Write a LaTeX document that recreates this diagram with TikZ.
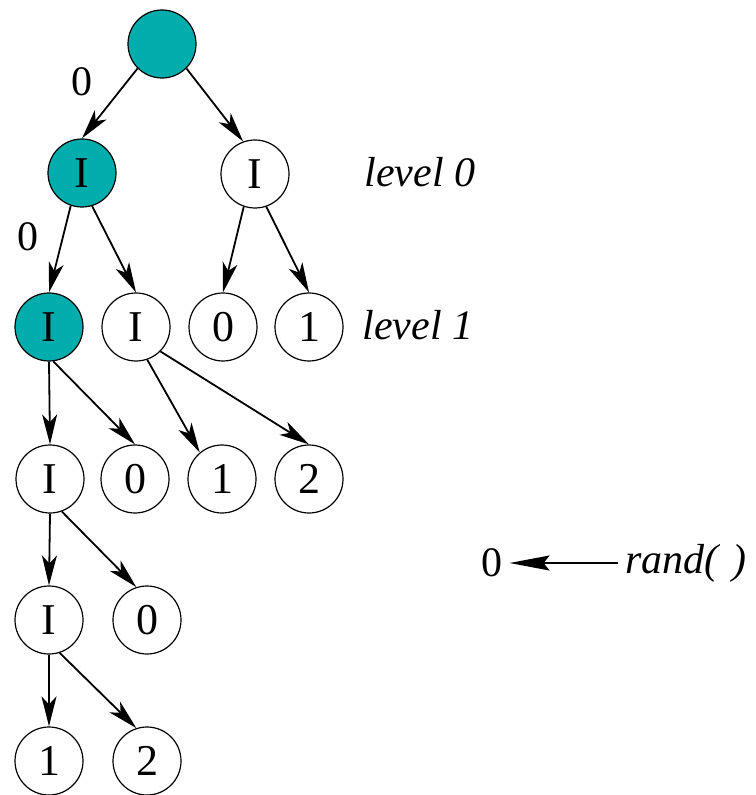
\documentclass[tikz,border=0pt]{standalone}
\usepackage{fontspec}
\setmainfont{Liberation Serif}
\usetikzlibrary{arrows.meta}

\definecolor{visited}{RGB}{0,173,173}

\begin{document}
\begin{tikzpicture}[x=0.5pt,y=-0.5pt,
    vtx/.style={circle,draw,line width=0.6pt,minimum size=34pt,inner sep=0pt,
        font=\fontsize{22}{26}\selectfont},
    hit/.style={vtx,fill=visited},
    edge/.style={line width=0.9pt,-{Stealth[length=15pt,width=7.5pt,inset=4pt]}},
    lbl/.style={font=\fontsize{21}{25}\selectfont}]
    \useasboundingbox (0,0) rectangle (755,795);

    % Root and level 0
    \node[hit] (root) at (162,44) {};
    \node[hit] (l0a) at (82,173) {I};
    \node[vtx] (l0b) at (255,174) {I};

    % Level 1
    \node[hit] (l1a) at (49,327) {I};
    \node[vtx] (l1b) at (136,327) {I};
    \node[vtx] (l1c) at (223,327) {0};
    \node[vtx] (l1d) at (309,327) {1};

    % Level 2
    \node[vtx] (l2a) at (50,479) {I};
    \node[vtx] (l2b) at (135,479) {0};
    \node[vtx] (l2c) at (222,479) {1};
    \node[vtx] (l2d) at (309,479) {2};

    % Deeper levels
    \node[vtx] (l3a) at (49,620) {I};
    \node[vtx] (l3b) at (147,620) {0};
    \node[vtx] (l4a) at (49,761) {1};
    \node[vtx] (l4b) at (147,761) {2};

    % Edges
    \foreach \a/\b in {root.south west/l0a.north, root.south east/l0b.110,
                       l0a.251/l1a.north, l0a.287/l1b.north,
                       l0b.251/l1c.north, l0b.289/l1d.north,
                       l1a.south/l2a.north, l1a.277/l2b.north,
                       l1b.289/l2c.130, l1b.south east/l2d.north,
                       l2a.south/l3a.north, l2a.290/l3b.108,
                       l3a.south/l4a.north, l3a.288/l4b.108} {
        \draw[edge] (\a) -- (\b);
    }

    % Branch labels
    \node[lbl] (br0) at (82,82) {0};
    \node[lbl] (br1) at (28,237) {0};

    % Level labels
    \node[lbl,font=\fontsize{21}{25}\selectfont\itshape] (lev0) at (420,172) {level 0};
    \node[lbl,font=\fontsize{21}{25}\selectfont\itshape] (lev1) at (418,325) {level 1};

    % rand() result
    \node[lbl] (pick) at (492,563) {0};
    \node[lbl,font=\fontsize{21}{25}\selectfont\itshape] (rnd) at (686,563) {rand(\,\,)};
    \draw[line width=0.9pt,-{Stealth[length=20pt,width=7.5pt,inset=3pt]}] (rnd) -- (pick);
\end{tikzpicture}
\end{document}
